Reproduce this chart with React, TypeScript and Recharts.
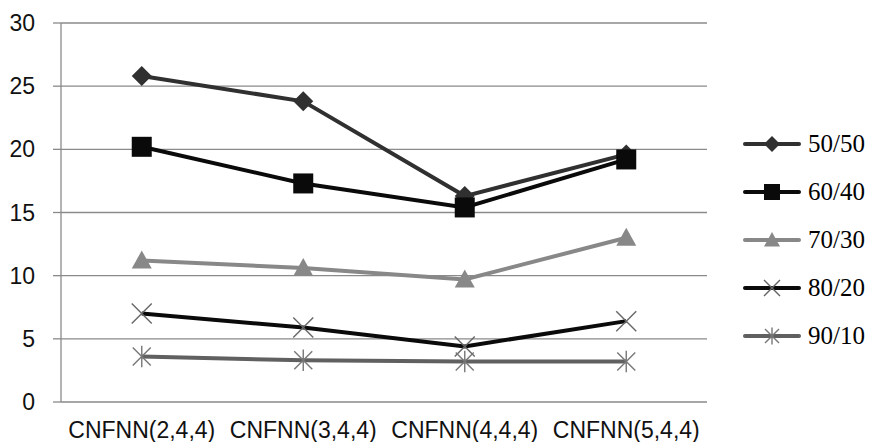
import React from "react"
import { LineChart, Line, XAxis, YAxis, CartesianGrid } from "recharts"

const categories = ["CNFNN(2,4,4)", "CNFNN(3,4,4)", "CNFNN(4,4,4)", "CNFNN(5,4,4)"]
const s5050 = [25.8, 23.8, 16.3, 19.6]
const s6040 = [20.2, 17.3, 15.4, 19.2]
const s7030 = [11.2, 10.6, 9.7, 13.0]
const s8020 = [7.0, 5.9, 4.4, 6.4]
const s9010 = [3.6, 3.3, 3.2, 3.2]
const yTicks = [0, 5, 10, 15, 20, 25, 30]
const edgeTicks = [0, 1, 2, 3, 4]

const data = categories.map((name, i) => ({
  name,
  "50/50": s5050[i],
  "60/40": s6040[i],
  "70/30": s7030[i],
  "80/20": s8020[i],
  "90/10": s9010[i],
}))

type Kind = "diamond" | "square" | "triangle" | "cross" | "star"

function Marker({ kind, cx, cy, r, color }: { kind: Kind; cx: number; cy: number; r: number; color: string }) {
  if (kind === "diamond") {
    return <polygon points={`${cx},${cy - r} ${cx + r},${cy} ${cx},${cy + r} ${cx - r},${cy}`} fill={color} />
  }
  if (kind === "square") {
    return <rect x={cx - r} y={cy - r} width={r * 2} height={r * 2} fill={color} />
  }
  if (kind === "triangle") {
    return <polygon points={`${cx},${cy - r} ${cx + r},${cy + r * 0.8} ${cx - r},${cy + r * 0.8}`} fill={color} />
  }
  if (kind === "cross") {
    return (
      <g stroke={color} strokeWidth={1.4}>
        <line x1={cx - r} y1={cy - r} x2={cx + r} y2={cy + r} />
        <line x1={cx - r} y1={cy + r} x2={cx + r} y2={cy - r} />
      </g>
    )
  }
  return (
    <g stroke={color} strokeWidth={1.4}>
      <line x1={cx - r} y1={cy - r} x2={cx + r} y2={cy + r} />
      <line x1={cx - r} y1={cy + r} x2={cx + r} y2={cy - r} />
      <line x1={cx} y1={cy - r * 1.2} x2={cx} y2={cy + r * 1.2} />
    </g>
  )
}

const series: { key: string; color: string; marker: Kind; markerColor: string; size: number; legendSize: number }[] = [
  { key: "50/50", color: "#303030", marker: "diamond", markerColor: "#303030", size: 10, legendSize: 8 },
  { key: "60/40", color: "#0a0a0a", marker: "square", markerColor: "#0a0a0a", size: 10, legendSize: 8 },
  { key: "70/30", color: "#888888", marker: "triangle", markerColor: "#888888", size: 10, legendSize: 8 },
  { key: "80/20", color: "#0a0a0a", marker: "cross", markerColor: "#666666", size: 10, legendSize: 8 },
  { key: "90/10", color: "#606060", marker: "star", markerColor: "#777777", size: 9, legendSize: 7 },
]

function LegendBox() {
  return (
    <div style={{ position: "absolute", left: 743, top: 120, width: 130 }}>
      {series.map((s) => (
        <div key={s.key} style={{ display: "flex", alignItems: "center", height: 48 }}>
          <svg width={58} height={24}>
            <line x1={2} y1={12} x2={56} y2={12} stroke={s.color} strokeWidth={4} strokeLinecap="round" />
            <Marker kind={s.marker} cx={29} cy={12} r={s.legendSize} color={s.markerColor} />
          </svg>
          <span style={{ fontFamily: "'Liberation Serif', serif", fontSize: 25, color: "#000", marginLeft: 7 }}>
            {s.key}
          </span>
        </div>
      ))}
    </div>
  )
}

export default function App() {
  return (
    <div style={{ position: "absolute", left: 0, top: 0, width: 875, height: 442, background: "#fff" }}>
      <LineChart width={875} height={442} data={data} margin={{ top: 23, right: 168, left: 0, bottom: 0 }}>
        <CartesianGrid vertical={false} stroke="#8a8a8a" strokeWidth={1.3} />
        <XAxis
          xAxisId="edge"
          type="number"
          domain={[0, 4]}
          ticks={edgeTicks}
          tickFormatter={() => ""}
          stroke="#8a8a8a"
          strokeWidth={1.3}
          tickSize={8}
          height={0}
        />
        <XAxis
          xAxisId="cat"
          dataKey="name"
          scale="band"
          axisLine={false}
          tickLine={false}
          tickSize={0}
          tickMargin={20}
          height={40}
          interval={0}
          tick={{ fontFamily: "'Liberation Sans', Arial, sans-serif", fontSize: 23, fill: "#111" }}
        />
        <YAxis
          domain={[0, 30]}
          ticks={yTicks}
          width={61}
          stroke="#8a8a8a"
          strokeWidth={1.3}
          tickSize={8}
          tickMargin={18}
          tick={{ fontFamily: "'Liberation Sans', Arial, sans-serif", fontSize: 23, fill: "#111" }}
        />
        {series.map((s) => (
          <Line
            key={s.key}
            xAxisId="cat"
            dataKey={s.key}
            stroke={s.color}
            strokeWidth={4}
            isAnimationActive={false}
            dot={(p: any) => (
              <Marker key={`${s.key}-${p.index}`} kind={s.marker} cx={p.cx} cy={p.cy} r={s.size} color={s.markerColor} />
            )}
            activeDot={false}
          />
        ))}
      </LineChart>
      <LegendBox />
    </div>
  )
}
